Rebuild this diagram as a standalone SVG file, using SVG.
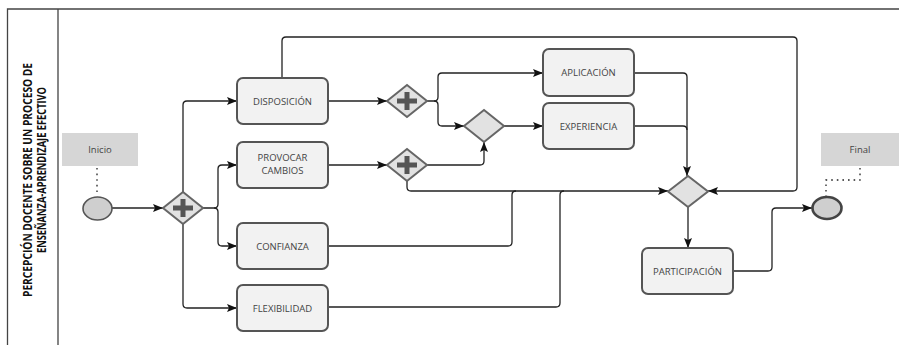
<svg xmlns="http://www.w3.org/2000/svg" width="899" height="345" viewBox="0 0 899 345">
<defs>
<marker id="arr" markerWidth="10" markerHeight="8" refX="10" refY="4" orient="auto" markerUnits="userSpaceOnUse">
<path d="M0,0 L10,4 L0,8 L2,4 z" fill="#111"/>
</marker>
<style>
.frame{fill:none;stroke:#444;stroke-width:1.3}
.task{fill:#f2f2f2;stroke:#555;stroke-width:2}
.gw{fill:#e2e2e2;stroke:#666;stroke-width:2}
.plus{stroke:#555;stroke-width:5;fill:none}
.lbl{font-family:"Open Sans","DejaVu Sans",sans-serif;font-size:9.5px;fill:#444;text-anchor:middle}
.title{font-family:"Open Sans","DejaVu Sans",sans-serif;font-size:12px;font-weight:bold;fill:#111;text-anchor:middle}
.note{fill:#d6d6d6}
.conn path{fill:none;stroke:#222;stroke-width:1.3}
.conn path.a{marker-end:url(#arr)}
.dot{fill:none;stroke:#333;stroke-width:1.6;stroke-dasharray:1.6 4}
.ev{fill:#cfcfcf;stroke:#555;stroke-width:1.6}
.evEnd{fill:#cfcfcf;stroke:#444;stroke-width:2.6}
</style>
</defs>
<rect width="899" height="345" fill="#fff"/>
<g id="frame">
<path class="frame" d="M7.5,345 V9 H899 M58,9 V345"/>
<text class="title" transform="translate(32,180) rotate(-90)" textLength="234" lengthAdjust="spacingAndGlyphs">PERCEPCIÓN DOCENTE SOBRE UN PROCESO DE</text>
<text class="title" transform="translate(45.5,170) rotate(-90)" textLength="166" lengthAdjust="spacingAndGlyphs">ENSEÑANZA-APRENDIZAJE EFECTIVO</text>
</g>
<g class="conn" id="connectors">
<path class="a" d="M112,208 H163"/>
<path class="a" d="M183,192 V105 Q183,101 187,101 H237"/>
<path class="a" d="M183,224 V304 Q183,308 187,308 H237"/>
<path class="a" d="M203,208 H214 Q218,208 218,204 V169 Q218,165 222,165 H237"/>
<path class="a" d="M214,208 Q218,208 218,212 V242 Q218,246 222,246 H237"/>
<path class="a" d="M328,101 H387"/>
<path class="a" d="M328,165 H387"/>
<path class="a" d="M427,101 H434 Q438,101 438,97 V77 Q438,73 442,73 H543"/>
<path class="a" d="M434,101 Q438,101 438,105 V122 Q438,126 442,126 H464"/>
<path class="a" d="M427,165 H480 Q484,165 484,161 V142"/>
<path class="a" d="M504,126 H543"/>
<path class="a" d="M407,181 V187 Q407,191 411,191 H668"/>
<path d="M328,246 H508 Q512,246 512,242 V195 Q512,191 516,191"/>
<path d="M328,307 H556 Q560,307 560,303 V195 Q560,191 564,191"/>
<path class="a" d="M634,73 H683 Q687,73 687,77 V176"/>
<path d="M634,126 H683 Q687,126 687,130"/>
<path class="a" d="M282,78 V41 Q282,37 286,37 H793 Q797,37 797,41 V187 Q797,191 793,191 H708"/>
<path class="a" d="M688,207 V248"/>
<path class="a" d="M733,271 H768 Q772,271 772,267 V212 Q772,208 776,208 H812"/>
<path class="dot" d="M97,168 V196"/>
<path class="dot" d="M860,168 V180 H826 V196"/>
</g>
<g id="inicio-label"><rect class="note" x="62" y="133" width="76" height="33"/><text class="lbl" x="100" y="153">Inicio</text></g>
<g id="final-label"><rect class="note" x="821" y="133" width="78" height="33"/><text class="lbl" x="860" y="153">Final</text></g>
<g id="inicio"><ellipse class="ev" cx="97.5" cy="208.5" rx="14.5" ry="11.5"/></g>
<g id="final"><ellipse class="evEnd" cx="827" cy="208" rx="14.5" ry="11"/></g>
<g id="g1"><path class="gw" d="M163,208 L183,192 L203,208 L183,224 z"/><path class="plus" d="M173,208 H193 M183,199 V217"/></g>
<g id="g2"><path class="gw" d="M387,101 L407,85 L427,101 L407,117 z"/><path class="plus" d="M397,101 H417 M407,92 V110"/></g>
<g id="g3"><path class="gw" d="M387,165 L407,149 L427,165 L407,181 z"/><path class="plus" d="M397,165 H417 M407,156 V174"/></g>
<g id="xor"><path class="gw" d="M464,126 L484,110 L504,126 L484,142 z"/></g>
<g id="merge"><path class="gw" d="M668,191.5 L688,176 L708,191.5 L688,207 z"/></g>
<g id="disposicion"><rect class="task" x="237" y="78" width="91" height="46" rx="6"/><text class="lbl" x="282.5" y="104.5">DISPOSICIÓN</text></g>
<g id="provocar"><rect class="task" x="237" y="142" width="91" height="46" rx="6"/><text class="lbl" x="282.5" y="161">PROVOCAR</text><text class="lbl" x="282.5" y="174">CAMBIOS</text></g>
<g id="confianza"><rect class="task" x="237" y="223" width="91" height="46" rx="6"/><text class="lbl" x="282.5" y="249.5">CONFIANZA</text></g>
<g id="flexibilidad"><rect class="task" x="237" y="285" width="91" height="46" rx="6"/><text class="lbl" x="282.5" y="311.5">FLEXIBILIDAD</text></g>
<g id="aplicacion"><rect class="task" x="543" y="49" width="91" height="47" rx="6"/><text class="lbl" x="588.5" y="76">APLICACIÓN</text></g>
<g id="experiencia"><rect class="task" x="543" y="103" width="91" height="46" rx="6"/><text class="lbl" x="588.5" y="129.5">EXPERIENCIA</text></g>
<g id="participacion"><rect class="task" x="642" y="248" width="91" height="46" rx="6"/><text class="lbl" x="687.5" y="274.5">PARTICIPACIÓN</text></g>
</svg>
